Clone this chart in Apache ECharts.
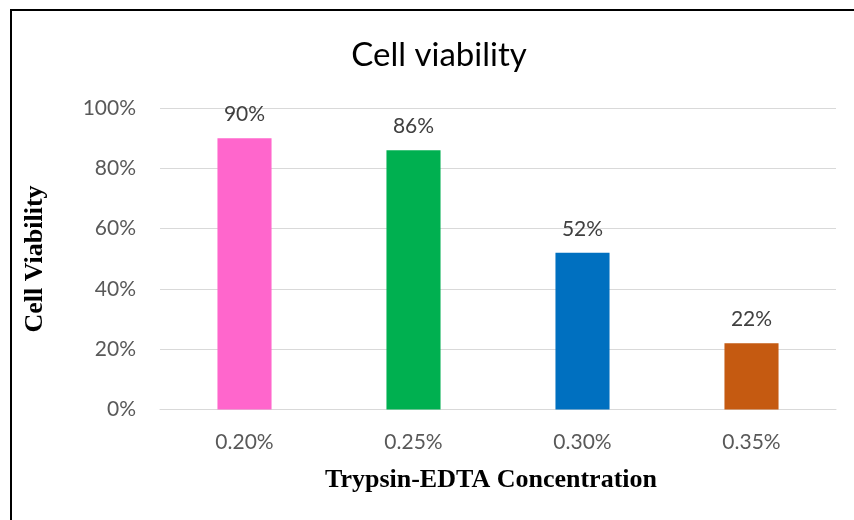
<!DOCTYPE html>
<html>
<head>
<meta charset="utf-8">
<script src="https://cdn.jsdelivr.net/npm/echarts@6/dist/echarts.min.js"></script>
<style>html,body{margin:0;padding:0;background:#fff;}#c{width:854px;height:520px;}</style>
</head>
<body>
<div id="c"></div>
<script>
const categories = ['0.20%', '0.25%', '0.30%', '0.35%'];
const values = [90, 86, 52, 22];
const barColors = ['#FF66CC', '#00B050', '#0070C0', '#C55A11'];
const yTicks = [0, 20, 40, 60, 80, 100];

const chart = echarts.init(document.getElementById('c'), null, {renderer: 'canvas'});
chart.setOption({
  animation: false,
  backgroundColor: '#fff',
  title: {
    text: 'Cell viability',
    left: 434, top: 34, textAlign: 'center',
    textStyle: {fontFamily: 'Lato', fontSize: 33, fontWeight: 'normal', color: '#000'}
  },
  graphic: [
    {type: 'rect', shape: {x: 11, y: 10, width: 900, height: 600}, style: {fill: 'none', stroke: '#000', lineWidth: 2}, z: 100},
    {type: 'text', x: 35, y: 259, rotation: Math.PI / 2, style: {text: 'Cell Viability', font: 'bold 26px "Liberation Serif"', fill: '#000', align: 'center', verticalAlign: 'middle'}}
  ],
  grid: {left: 160, right: 18, top: 108, bottom: 110.5, containLabel: false},
  xAxis: {
    type: 'category', data: categories,
    axisLine: {lineStyle: {color: '#D9D9D9', width: 1}},
    axisTick: {show: false},
    axisLabel: {color: '#595959', fontFamily: 'Lato', fontSize: 21, margin: 22},
    name: 'Trypsin-EDTA Concentration', nameLocation: 'middle', nameGap: 58,
    nameTextStyle: {fontFamily: 'Liberation Serif', fontWeight: 'bold', fontSize: 26, color: '#000', padding: [0, 0, 0, -14]}
  },
  yAxis: {
    type: 'value', min: 0, max: 100, interval: 20,
    axisLine: {show: false}, axisTick: {show: false},
    splitLine: {lineStyle: {color: '#D9D9D9', width: 1}},
    axisLabel: {color: '#595959', fontFamily: 'Lato', fontSize: 21, margin: 24, formatter: v => yTicks.includes(v) ? v + '%' : ''}
  },
  series: [{
    type: 'bar', barWidth: '32%',
    data: values.map((v, i) => ({value: v, itemStyle: {color: barColors[i]}})),
    label: {show: true, position: 'top', distance: 13, formatter: '{c}%', color: '#404040', fontFamily: 'Lato', fontSize: 21}
  }]
});
</script>
</body>
</html>
